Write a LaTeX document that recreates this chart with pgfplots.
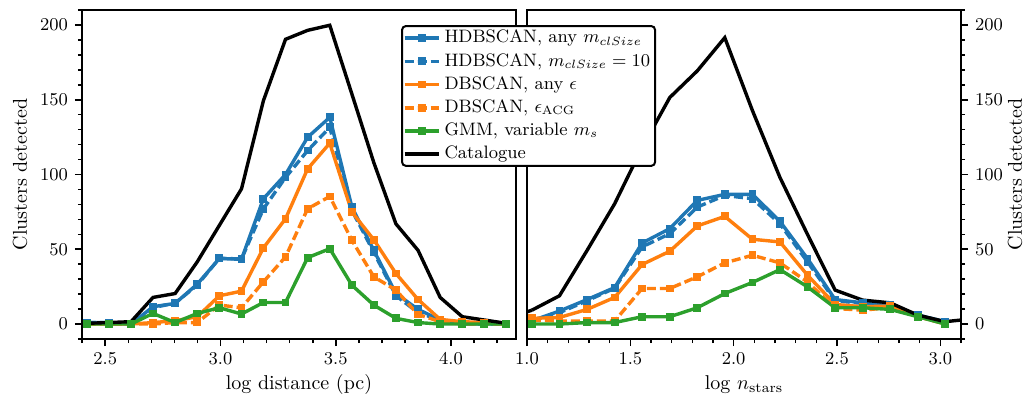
\documentclass[border=0pt,10pt]{standalone}
\usepackage{pgfplots}
\pgfplotsset{compat=1.18}
\usepackage{pgfplotstable}

\definecolor{c0}{HTML}{1F77B4}
\definecolor{c1}{HTML}{FF7F0E}
\definecolor{c2}{HTML}{2CA02C}

\pgfplotstableread{
x     hany  h10   dany  dacg  gmm   cat
2.420 0.9   0.9   0     0     0     0.5
2.516 1     1     0     0     0     1
2.612 0     0     0     0     0     1.6
2.707 11.6  11    1     0     7.1   17.8
2.803 13.8  14    2.2   1     1     20.4
2.899 26.7  26    4.9   1     7.1   41.6
2.995 43.8  44    18.9  12.7  10.9  66
3.091 43.3  43.5  22    10.9  6.7   90.4
3.186 83.8  77    50.9  28.2  14.4  149.3
3.282 100   98    70.4  44.9  14.4  190.4
3.378 124.9 116   103.8 77.1  44.4  196.4
3.474 138.2 131.5 120.9 85.3  50.4  199.8
3.570 78.2  76    74.9  56    26    153.8
3.665 49.3  48    56.4  31.6  12.7  108
3.761 20.4  19    33.8  22.7  3.8   67
3.857 9.8   7.6   16.4  6.4   1     49.3
3.953 2.7   2.7   3.1   1.6   0     17.8
4.049 0     0     1.6   0     0     4.9
4.144 0     0     1     0     0     2.7
4.240 0     0     0     0     0     0.5
}\leftdata

\pgfplotstableread{
x     hany  h10   dany  dacg  gmm   cat
1.024 2.2   1.6   3.8   2.7   0     9.3
1.157 8.7   7.6   4.4   2     0     18.9
1.291 16.4  15.6  9.8   2     1     49.3
1.424 24.4  24    17.8  2     1     80.4
1.557 54.2  51.6  39.8  23.8  4.9   118
1.691 63.8  60.4  48.7  23.8  4.9   151.5
1.824 82.7  78.2  65.6  31.6  10.9  169.3
1.957 86.7  86    72    40.9  20.4  191.5
2.091 86.7  83.8  56.7  46    27.8  142.7
2.224 68.7  67    54.9  40.9  36.4  98
2.357 43.8  41.6  32.7  28.2  24.9  60
2.491 16.4  15.6  13.1  10.4  10.9  22.7
2.624 14.2  13.8  11.6  9.3   10.9  16
2.757 12.7  12    12    11    9.8   14.2
2.891 6     6     5     5     4.9   6
3.024 1.6   1     0.4   0     0     1.6
}\rightdata

\pgfplotstableread{
x     cat
0.891 3
1.024 9.3
}\rightcatlo
\pgfplotstableread{
x     cat
3.024 1.6
3.157 3.5
}\rightcathi

\pgfplotsset{
  panel/.style={
    scale only axis, width=217pt, height=164.5pt, anchor=south west,
    ymin=-10, ymax=210, ytick={0,50,100,150,200},
    minor ytick={-10,10,20,30,40,60,70,80,90,110,120,130,140,160,170,180,190,210},
    tick align=outside, xtick pos=lower,
    major tick length=3.5pt, minor tick length=2pt,
    every tick/.style={black, line width=0.8pt},
    axis line style={line width=1pt},
    tick label style={font=\fontsize{9}{10}\selectfont},
    label style={font=\fontsize{10}{12}\selectfont},
    xticklabel={\pgfmathprintnumber[fixed,fixed zerofill,precision=1]{\tick}},
    xlabel style={at={(axis description cs:0.5,-0.1398)}, anchor=center},
    clip=true,
  },
  hany/.style={c0, line width=1.7pt, mark=square*, mark size=1.1pt},
  h10/.style={c0, line width=1.7pt, mark=square*, mark size=1.1pt, dash pattern=on 4.5pt off 2pt, every mark/.append style={solid}},
  dany/.style={c1, line width=1.7pt, mark=square*, mark size=1.1pt},
  dacg/.style={c1, line width=1.7pt, mark=square*, mark size=1.1pt, dash pattern=on 4.5pt off 2pt, every mark/.append style={solid}},
  gmm/.style={c2, line width=1.7pt, mark=square*, mark size=1.1pt},
  cat/.style={black, line width=1.7pt, mark=none},
}

\begin{document}
\begin{tikzpicture}
\useasboundingbox (0,0) rectangle (517.5pt,201.5pt);

\begin{axis}[panel, at={(41pt,32pt)},
  xmin=2.399, xmax=4.282, xtick={2.5,3.0,3.5,4.0},
  minor xtick={2.4,2.6,2.7,2.8,2.9,3.1,3.2,3.3,3.4,3.6,3.7,3.8,3.9,4.1,4.2},
  ytick pos=left,
  xlabel={log distance (pc)},
  ylabel={Clusters detected},
  ylabel style={at={(axis description cs:-0.1429,0.5)}, anchor=center},
]
\addplot[hany] table[x=x,y=hany] {\leftdata};
\addplot[h10]  table[x=x,y=h10]  {\leftdata};
\addplot[dany] table[x=x,y=dany] {\leftdata};
\addplot[dacg] table[x=x,y=dacg] {\leftdata};
\addplot[gmm]  table[x=x,y=gmm]  {\leftdata};
\addplot[cat]  table[x=x,y=cat]  {\leftdata};
\end{axis}

\begin{axis}[panel, at={(263.5pt,32pt)},
  xmin=1.0, xmax=3.1, xtick={1.0,1.5,2.0,2.5,3.0},
  minor xtick={1.1,1.2,1.3,1.4,1.6,1.7,1.8,1.9,2.1,2.2,2.3,2.4,2.6,2.7,2.8,2.9,3.1},
  ytick pos=right, yticklabel pos=right,
  xlabel={log $n_{\mathrm{stars}}$},
  ylabel={Clusters detected},
  ylabel style={at={(axis description cs:1.1244,0.5)}, anchor=center, rotate=0},
  legend cell align=left,
  legend style={at={(-0.2903,0.9544)}, anchor=north west, draw=black, line width=1pt,
    rounded corners=2pt, fill=white, font=\fontsize{9}{11}\selectfont, row sep=-0.3pt,
    inner xsep=0.5pt, inner ysep=0pt},
]
\addplot[hany] table[x=x,y=hany] {\rightdata};
\addlegendentry{HDBSCAN, any $m_{clSize}$}
\addplot[h10]  table[x=x,y=h10]  {\rightdata};
\addlegendentry{HDBSCAN, $m_{clSize}=10$}
\addplot[dany] table[x=x,y=dany] {\rightdata};
\addlegendentry{DBSCAN, any $\epsilon$}
\addplot[dacg] table[x=x,y=dacg] {\rightdata};
\addlegendentry{DBSCAN, $\epsilon_{\mathrm{ACG}}$}
\addplot[gmm]  table[x=x,y=gmm]  {\rightdata};
\addlegendentry{GMM, variable $m_s$}
\addplot[cat]  table[x=x,y=cat]  {\rightdata};
\addlegendentry{Catalogue}
\addplot[cat, forget plot] table[x=x,y=cat] {\rightcatlo};
\addplot[cat, forget plot] table[x=x,y=cat] {\rightcathi};
\end{axis}
\end{tikzpicture}
\end{document}
